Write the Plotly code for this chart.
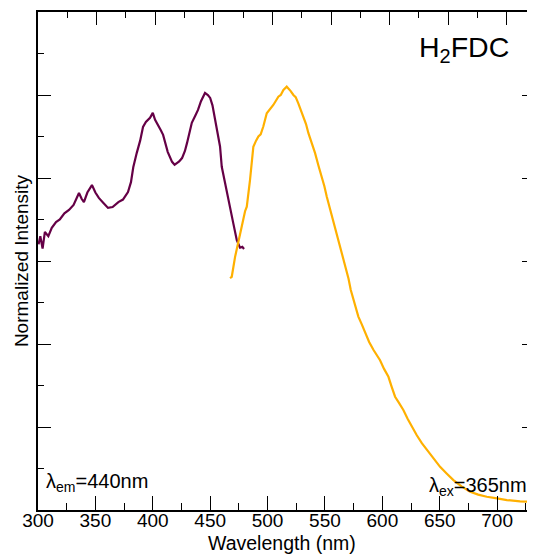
import plotly.graph_objects as go

# Excitation spectrum (lambda_em = 440 nm)
ex_wavelength = [300.5, 302, 304, 306, 309, 312, 315.7, 319, 323, 327, 331, 335.7, 338, 340, 343, 347,
                 350, 353, 357, 361, 365, 370, 374, 378.4, 381, 383, 386, 389, 391.5, 394, 397.6, 400,
                 402, 404.6, 407, 409, 411, 413, 416.8, 419, 421, 423, 425.5, 428, 429.8, 432, 434,
                 437, 439.4, 442, 444, 445.5, 448, 450, 452, 454, 455.7, 458.6, 460.1, 463, 465,
                 467.3, 470.2, 473.2, 476, 478, 479.5]
ex_intensity = [0.64, 0.66, 0.63, 0.67, 0.66, 0.68, 0.694, 0.70, 0.715, 0.723, 0.735, 0.764, 0.75, 0.742, 0.765, 0.783,
                0.765, 0.752, 0.74, 0.728, 0.73, 0.742, 0.748, 0.766, 0.79, 0.826, 0.86, 0.89, 0.923, 0.935, 0.945, 0.957,
                0.94, 0.928, 0.915, 0.904, 0.885, 0.863, 0.839, 0.832, 0.836, 0.84, 0.848, 0.865, 0.884, 0.91, 0.933,
                0.95, 0.964, 0.985, 0.995, 1.005, 1.0, 0.993, 0.975, 0.947, 0.916, 0.876, 0.827, 0.79, 0.76,
                0.73, 0.69, 0.65, 0.632, 0.634, 0.629]

# Emission spectrum (lambda_ex = 365 nm)
em_wavelength = [467.3, 468.8, 471.7, 473.2, 475.5, 477.5, 480.4, 481.9, 484.7, 486, 487.6, 490, 492, 494,
                 496.3, 499.3, 502, 505, 507, 509.4, 511.5, 513.8, 516.7, 518.1, 520, 522.5, 524.5, 526.8,
                 529, 531.2, 533.5, 535.6, 538.5, 541.4, 544.3, 547.2, 549.5, 551.6, 554, 556, 559, 561.7,
                 563.2, 566.1, 569, 570.5, 572.5, 574.8, 577, 579.1, 582, 585, 588.5, 592.2, 595, 598,
                 601.5, 605.3, 608, 611.1, 614.5, 618.3, 622, 625.7, 630, 634.4, 638.7, 641.6, 646,
                 650.3, 656, 661.9, 669, 676.5, 683.5, 691, 700, 708.5, 720, 731.6]
em_intensity = [0.559, 0.562, 0.61, 0.627, 0.66, 0.683, 0.72, 0.731, 0.795, 0.84, 0.875, 0.89, 0.9, 0.905,
                0.924, 0.956, 0.965, 0.976, 0.985, 0.996, 1.0, 1.012, 1.02, 1.016, 1.01, 1.0, 0.995, 0.98,
                0.965, 0.948, 0.93, 0.908, 0.885, 0.86, 0.83, 0.803, 0.78, 0.755, 0.73, 0.707, 0.68, 0.651,
                0.63, 0.602, 0.57, 0.558, 0.53, 0.506, 0.485, 0.466, 0.448, 0.426, 0.405, 0.386, 0.375, 0.361,
                0.34, 0.321, 0.298, 0.273, 0.258, 0.241, 0.22, 0.201, 0.18, 0.161, 0.145, 0.137, 0.12,
                0.104, 0.088, 0.072, 0.057, 0.044, 0.037, 0.032, 0.028, 0.024, 0.021, 0.019]

x_ticks = [300, 350, 400, 450, 500, 550, 600, 650, 700]

FONT = "Liberation Sans, Arial, Helvetica, sans-serif"
PURPLE = "#650046"
ORANGE = "#FFB000"

fig = go.Figure()
fig.add_trace(go.Scatter(x=ex_wavelength, y=ex_intensity, mode="lines",
                         line=dict(color=PURPLE, width=2.2), showlegend=False))
fig.add_trace(go.Scatter(x=em_wavelength, y=em_intensity, mode="lines",
                         line=dict(color=ORANGE, width=2.2), showlegend=False))
# empty trace to activate the top axis
fig.add_trace(go.Scatter(x=[], y=[], xaxis="x2", showlegend=False, hoverinfo="skip"))

axis_common = dict(showline=True, linecolor="black", linewidth=2, showgrid=False, zeroline=False,
                   ticks="inside", tickcolor="black", tickwidth=1.3, automargin=False)

# The page body has an 8px margin, so the figure is 8px smaller and its margins shifted.
fig.update_layout(
    width=527, height=551,
    margin=dict(l=30, r=0, t=4, b=49, autoexpand=False),
    plot_bgcolor="white", paper_bgcolor="white",
    font=dict(family=FONT, size=19, color="black"),
    xaxis=dict(range=[300, 733], tickvals=x_ticks, ticktext=[str(v) for v in x_ticks],
               ticklen=14, minor=dict(dtick=25, ticklen=7, ticks="inside", tickcolor="black"),
               tickfont=dict(size=19), ticklabelstandoff=-8, **axis_common),
    xaxis2=dict(range=[300, 724], overlaying="x", side="top", dtick=50, tick0=300, ticklen=13,
                showticklabels=False, anchor="y",
                minor=dict(dtick=25, ticklen=6, ticks="inside", tickcolor="black"), **axis_common),
    yaxis=dict(range=[0, 1.2], dtick=0.2, tick0=0, ticklen=13, showticklabels=False, mirror="ticks",
               minor=dict(dtick=0.1, ticklen=6, ticks="inside", tickcolor="black"), **axis_common),
    annotations=[
        dict(text="Wavelength (nm)", x=0.49, y=-0.066, xref="paper", yref="paper",
             xanchor="center", yanchor="middle", showarrow=False, font=dict(size=19.5)),
        dict(text="Normalized Intensity", x=-0.034, y=0.5, xref="paper", yref="paper", textangle=-90,
             xanchor="center", yanchor="middle", showarrow=False, font=dict(size=19)),
        dict(text="H<sub>2</sub>FDC", x=0.952, y=0.925, xref="paper", yref="paper",
             xanchor="right", yanchor="middle", showarrow=False, font=dict(size=28.5)),
        dict(text="λ<sub>em</sub>=440nm", x=0.012, y=0.056, xref="paper", yref="paper",
             xanchor="left", yanchor="middle", showarrow=False, font=dict(size=20)),
        dict(text="λ<sub>ex</sub>=365nm", x=0.987, y=0.048, xref="paper", yref="paper",
             xanchor="right", yanchor="middle", showarrow=False, font=dict(size=20)),
    ],
)

fig.write_html("out.html", post_script="document.body.style.overflow='hidden';")
